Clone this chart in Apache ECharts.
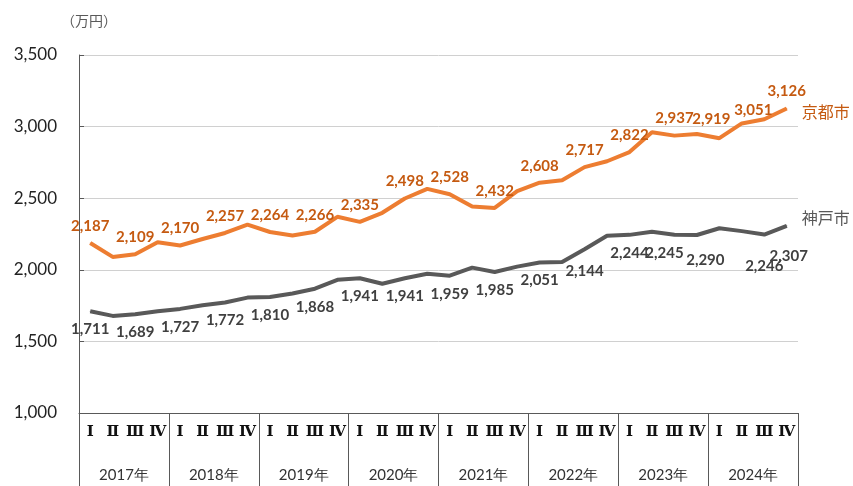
<!DOCTYPE html>
<html><head><meta charset="utf-8">
<script src="https://cdn.jsdelivr.net/npm/echarts@6/dist/echarts.min.js"></script>
<style>html,body{margin:0;padding:0;background:#fff}#c{width:853px;height:486px}</style>
</head><body><div id="c"></div>
<script>
const quarterNames = ['Ⅰ','Ⅱ','Ⅲ','Ⅳ'];
const years = ['2017年','2018年','2019年','2020年','2021年','2022年','2023年','2024年'];
const kyoto = [2187,2090,2109,2192, 2170,2215,2257,2315, 2264,2240,2266,2370, 2335,2398,2498,2565,
               2528,2442,2432,2550, 2608,2625,2717,2758, 2822,2960,2937,2948, 2919,3022,3051,3126];
const kobe  = [1711,1678,1689,1711, 1727,1753,1772,1806, 1810,1835,1868,1930, 1941,1903,1941,1973,
               1959,2015,1985,2022, 2051,2054,2144,2238, 2244,2265,2245,2243, 2290,2270,2246,2307];
const labeledIdx = [0,2,4,6,8,10,12,14,16,18,20,22,24,26,28,30,31];
const yMin = 1000, yMax = 3500, yStep = 500;
const seriesNames = ['京都市','神戸市'];
const unitLabel = '（万円）';

// layout-only tweaks for a few overlapping labels
const kyotoLabelShift = {28:[-8,-2], 30:[-11,8]};
const kobeLabelShift = {22:[0,4], 26:[-10,0], 28:[-14,14], 30:[0,14], 31:[2,12]};

const quarters = [];
years.forEach(() => quarterNames.forEach(q => quarters.push(q)));

const fmt = v => v.toLocaleString('en-US');
function build(vals, shifts) {
  return vals.map((v, i) => {
    const item = {value: v};
    if (labeledIdx.includes(i)) {
      item.label = {show: true};
      if (shifts[i]) item.label.offset = shifts[i];
    }
    return item;
  });
}

const ORANGE = '#ED7D31', ORANGE_T = '#C55A11', GRAY = '#595959', GRAY_T = '#404040';
const chart = echarts.init(document.getElementById('c'), null, {renderer: 'canvas'});
chart.setOption({
  animation: false,
  grid: {left: 79, right: 55, top: 55, bottom: 73},
  graphic: [{type: 'text', left: 61, top: 14, style: {text: unitLabel, font: '14px "Noto Sans CJK JP"', fill: GRAY}}],
  xAxis: [{
    type: 'category', data: quarters, position: 'bottom', boundaryGap: true,
    axisLine: {show: true, lineStyle: {color: GRAY, width: 1}},
    axisTick: {show: false},
    axisLabel: {interval: 0, margin: 12, color: '#111', fontFamily: 'DejaVu Serif', fontSize: 15, fontWeight: 'bold'}
  }, {
    type: 'category', data: years, position: 'bottom', boundaryGap: true,
    axisLine: {show: false},
    axisTick: {show: true, length: 75, interval: 0, lineStyle: {color: GRAY, width: 1}},
    axisLabel: {interval: 0, margin: 55, color: '#333', fontFamily: 'Lato', fontSize: 15}
  }],
  yAxis: {
    type: 'value', min: yMin, max: yMax, interval: yStep,
    axisLine: {show: true, lineStyle: {color: GRAY, width: 1}},
    axisTick: {show: true, inside: true, length: 5, lineStyle: {color: GRAY}},
    splitLine: {show: true, lineStyle: {color: '#D0D0D0', width: 1}},
    axisLabel: {color: '#222', fontFamily: 'Lato', fontSize: 17, margin: 22, formatter: v => fmt(v)}
  },
  series: [{
    name: seriesNames[0], type: 'line', xAxisIndex: 0, data: build(kyoto, kyotoLabelShift),
    symbol: 'circle', symbolSize: 1, showSymbol: true,
    lineStyle: {color: ORANGE, width: 4}, itemStyle: {color: ORANGE},
    label: {show: false, position: 'top', distance: 9, color: ORANGE_T, fontFamily: 'Lato', fontWeight: 'bold', fontSize: 15, formatter: p => fmt(p.value)},
    endLabel: {show: true, formatter: '{a}', color: ORANGE_T, fontFamily: 'Noto Sans CJK JP', fontSize: 16, distance: 15, offset: [0, 3]},
    emphasis: {disabled: true}
  }, {
    name: seriesNames[1], type: 'line', xAxisIndex: 0, data: build(kobe, kobeLabelShift),
    symbol: 'circle', symbolSize: 1, showSymbol: true,
    lineStyle: {color: GRAY, width: 4}, itemStyle: {color: GRAY},
    label: {show: false, position: 'bottom', distance: 10, color: GRAY_T, fontFamily: 'Lato', fontWeight: 'bold', fontSize: 15, formatter: p => fmt(p.value)},
    endLabel: {show: true, formatter: '{a}', color: GRAY, fontFamily: 'Noto Sans CJK JP', fontSize: 16, distance: 15, offset: [0, -8]},
    emphasis: {disabled: true}
  }]
});
</script></body></html>
